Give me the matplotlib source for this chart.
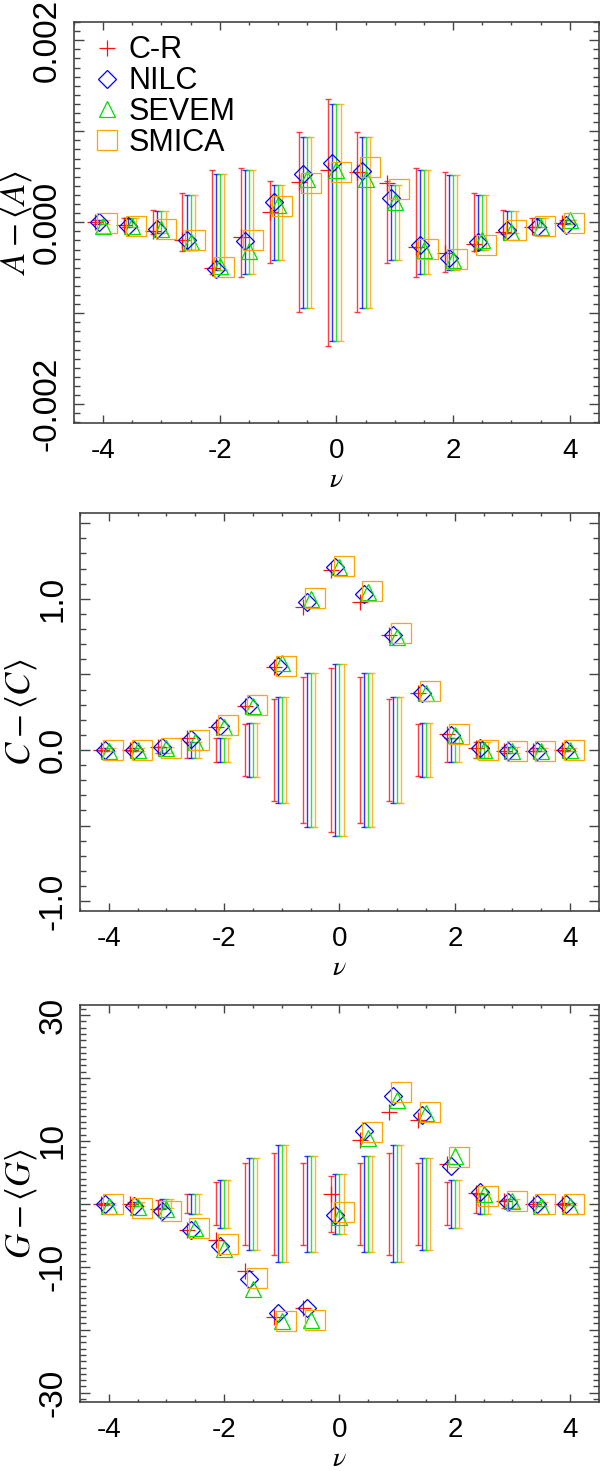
import numpy as np
import matplotlib
matplotlib.use('Agg')
import matplotlib.pyplot as plt
from matplotlib.ticker import MultipleLocator

plt.rcParams['font.family'] = ['Liberation Sans', 'DejaVu Sans']
plt.rcParams['mathtext.fontset'] = 'stix'
plt.rcParams['axes.unicode_minus'] = False

# threshold values
nu = [-4.0, -3.5, -3.0, -2.5, -2.0, -1.5, -1.0, -0.5, 0.0, 0.5, 1.0, 1.5, 2.0, 2.5, 3.0, 3.5, 4.0]
names = ['C-R', 'NILC', 'SEVEM', 'SMICA']

# area: A - <A>
A_CR    = [0.0, -0.00003, -0.0001, -0.00019, -0.0005, -0.00016, 0.00011, 0.00044, 0.00057, 0.00055, 0.00043, -0.00027, -0.00034, -0.00024, -0.00011, -0.00005, -0.00001]
A_NILC  = [0.0, -0.00004, -0.00007, -0.00019, -0.00051, -0.00021, 0.00022, 0.00053, 0.00065, 0.00056, 0.00027, -0.00025, -0.00039, -0.00022, -0.00009, -0.00005, -0.00003]
A_SEVEM = [-0.00004, -0.00004, -0.00007, -0.00022, -0.00048, -0.00032, 0.00019, 0.00048, 0.00057, 0.00048, 0.00022, -0.00031, -0.00041, -0.0002, -0.00011, -0.00005, 0.00002]
A_SMICA = [-0.00001, -0.00004, -0.00007, -0.0002, -0.00049, -0.0002, 0.00018, 0.00043, 0.00055, 0.00061, 0.00037, -0.00029, -0.0004, -0.00025, -0.00009, -0.00004, -0.00001]
A_err_CR    = [0.00002, 0.00005, 0.00013, 0.00032, 0.00057, 0.0006, 0.00045, 0.00099, 0.00136, 0.00099, 0.00045, 0.0006, 0.00055, 0.00032, 0.00013, 0.00005, 0.00002]
A_err_NILC  = [0.00002, 0.00005, 0.00012, 0.0003, 0.00053, 0.00057, 0.00041, 0.00094, 0.0013, 0.00094, 0.00041, 0.00057, 0.00052, 0.0003, 0.00012, 0.00005, 0.00002]
A_err_SEVEM = A_err_NILC
A_err_SMICA = A_err_NILC

# contour length: C - <C>
C_CR    = [0.0, 0.0, 0.022, 0.077, 0.155, 0.294, 0.552, 0.943, 1.192, 0.982, 0.762, 0.38, 0.106, 0.011, -0.004, -0.01, 0.0]
C_NILC  = [0.0, 0.0, 0.022, 0.07, 0.16, 0.298, 0.556, 0.982, 1.21, 1.031, 0.762, 0.38, 0.099, 0.011, -0.004, -0.01, 0.0]
C_SEVEM = [-0.01, 0.0, 0.011, 0.055, 0.155, 0.29, 0.574, 0.998, 1.21, 1.044, 0.75, 0.375, 0.099, 0.0, -0.01, -0.01, 0.0]
C_SMICA = [0.0, 0.0, 0.011, 0.066, 0.165, 0.298, 0.558, 1.004, 1.219, 1.053, 0.773, 0.39, 0.106, 0.0, -0.004, -0.01, 0.0]
C_err_CR    = [0.01, 0.01, 0.02, 0.05, 0.08, 0.172, 0.335, 0.484, 0.54, 0.484, 0.335, 0.172, 0.08, 0.05, 0.02, 0.01, 0.01]
C_err_NILC  = [0.01, 0.01, 0.02, 0.05, 0.08, 0.178, 0.353, 0.51, 0.568, 0.51, 0.353, 0.178, 0.08, 0.05, 0.02, 0.01, 0.01]
C_err_SEVEM = C_err_NILC
C_err_SMICA = C_err_NILC

# genus: G - <G>
G_CR    = [0.0, -0.1, -0.8, -4.1, -5.7, -10.6, -18.0, -16.5, 1.6, 10.1, 14.6, 13.3, 6.4, 1.7, 0.4, 0.0, 0.0]
G_NILC  = [-0.1, -0.4, -1.2, -4.1, -6.7, -12.0, -17.3, -16.6, -1.7, 11.6, 17.1, 14.1, 6.0, 1.9, 0.3, 0.0, -0.1]
G_SEVEM = [-0.4, -0.5, -0.8, -3.8, -7.2, -13.6, -18.6, -18.5, -2.1, 10.4, 16.5, 14.4, 7.6, 1.6, 0.4, -0.4, -0.3]
G_SMICA = [0.0, -0.6, -1.1, -3.9, -6.4, -11.7, -18.6, -18.5, -1.3, 11.4, 17.7, 14.6, 7.4, 1.3, 0.4, -0.1, -0.1]
G_err_CR    = [0.2, 0.3, 0.65, 1.5, 3.4, 6.5, 8.15, 6.5, 4.4, 6.5, 8.15, 6.5, 3.4, 1.5, 0.65, 0.3, 0.2]
G_err_NILC  = [0.2, 0.3, 0.7, 1.6, 3.8, 7.3, 9.3, 7.6, 4.8, 7.6, 9.3, 7.3, 3.8, 1.6, 0.7, 0.3, 0.2]
G_err_SEVEM = G_err_NILC
G_err_SMICA = G_err_NILC

colors = ['#ff1010', '#0000ff', '#00dd00', '#ffa500']
markers = ['+', 'D', '^', 's']
msizes = [12, 9, 12, 14]
offsets = [-0.14, -0.07, 0.0, 0.07]
axcol = '#444444'


def draw_panel(ax, values, errors, ylim, major, ylabels, minor):
    x0 = np.array(nu)
    for i in range(4):
        ax.errorbar(x0 + offsets[i], np.zeros(len(nu)), yerr=errors[i], fmt='none',
                    ecolor=colors[i], elinewidth=1.0, capsize=2, capthick=1.0, alpha=0.8)
    for i in range(4):
        ax.plot(x0 + offsets[i], values[i], linestyle='none', marker=markers[i],
                ms=msizes[i], mfc='none', mec=colors[i], mew=0.9, label=names[i])
    ax.set_xlim(-4.5, 4.5)
    ax.set_ylim(ylim)
    ax.set_xticks([-4, -2, 0, 2, 4])
    ax.xaxis.set_minor_locator(MultipleLocator(0.5))
    ax.set_yticks(major)
    ax.set_yticklabels(ylabels)
    ax.yaxis.set_minor_locator(MultipleLocator(minor))
    ax.tick_params(axis='x', which='major', direction='in', length=6, width=1,
                   top=True, labelsize=20, pad=10.5, color=axcol)
    ax.tick_params(axis='x', which='minor', direction='in', length=2.5, width=1,
                   top=True, color=axcol)
    ax.tick_params(axis='y', which='major', direction='in', length=7.5, width=1,
                   right=True, labelsize=24, pad=8, labelrotation=90, color=axcol)
    ax.tick_params(axis='y', which='minor', direction='in', length=4, width=1,
                   right=True, color=axcol)
    for lab in ax.get_yticklabels():
        lab.set_va('center')
    for s in ax.spines.values():
        s.set_color(axcol)
        s.set_linewidth(1.2)
    ax.text(0.5, -0.110, r'$\nu$', transform=ax.transAxes, ha='center', va='top', fontsize=20)


fig = plt.figure(figsize=(6, 14.71), dpi=100)

ax1 = fig.add_axes([0.1233, 0.7122, 0.875, 0.2728])
draw_panel(ax1, [A_CR, A_NILC, A_SEVEM, A_SMICA],
           [A_err_CR, A_err_NILC, A_err_SEVEM, A_err_SMICA],
           (-0.00221, 0.0022),
           [-0.002, -0.001, 0.0, 0.001, 0.002],
           ['-0.002', '', '0.000', '', '0.002'], 0.0001)
ax1.legend(loc='upper left', bbox_to_anchor=(0.04, 0.967), frameon=False,
           borderaxespad=0, borderpad=0, handlelength=0.8, handletextpad=0.3,
           labelspacing=0.03, prop={'family': 'Liberation Sans', 'size': 22})
fig.text(16 / 600, 1 - 222.5 / 1471, r'$A - \langle A\rangle$', rotation=90,
         ha='center', va='center', fontsize=25)

ax2 = fig.add_axes([0.1333, 0.3807, 0.865, 0.2704])
draw_panel(ax2, [C_CR, C_NILC, C_SEVEM, C_SMICA],
           [C_err_CR, C_err_NILC, C_err_SEVEM, C_err_SMICA],
           (-1.065, 1.566),
           [-1.0, -0.5, 0.0, 0.5, 1.0, 1.5],
           ['-1.0', '', '0.0', '', '1.0', ''], 0.1)
fig.text(21 / 600, 1 - 712 / 1471, r'$C - \langle C\rangle$', rotation=90,
         ha='center', va='center', fontsize=25)

ax3 = fig.add_axes([0.1333, 0.0467, 0.865, 0.2701])
draw_panel(ax3, [G_CR, G_NILC, G_SEVEM, G_SMICA],
           [G_err_CR, G_err_NILC, G_err_SEVEM, G_err_SMICA],
           (-31.53, 31.6),
           [-30, -20, -10, 0, 10, 20, 30],
           ['-30', '', '-10', '', '10', '', '30'], 1)
fig.text(21 / 600, 1 - 1203.7 / 1471, r'$G - \langle G\rangle$', rotation=90,
         ha='center', va='center', fontsize=25)

fig.savefig('out.png', dpi=100)
